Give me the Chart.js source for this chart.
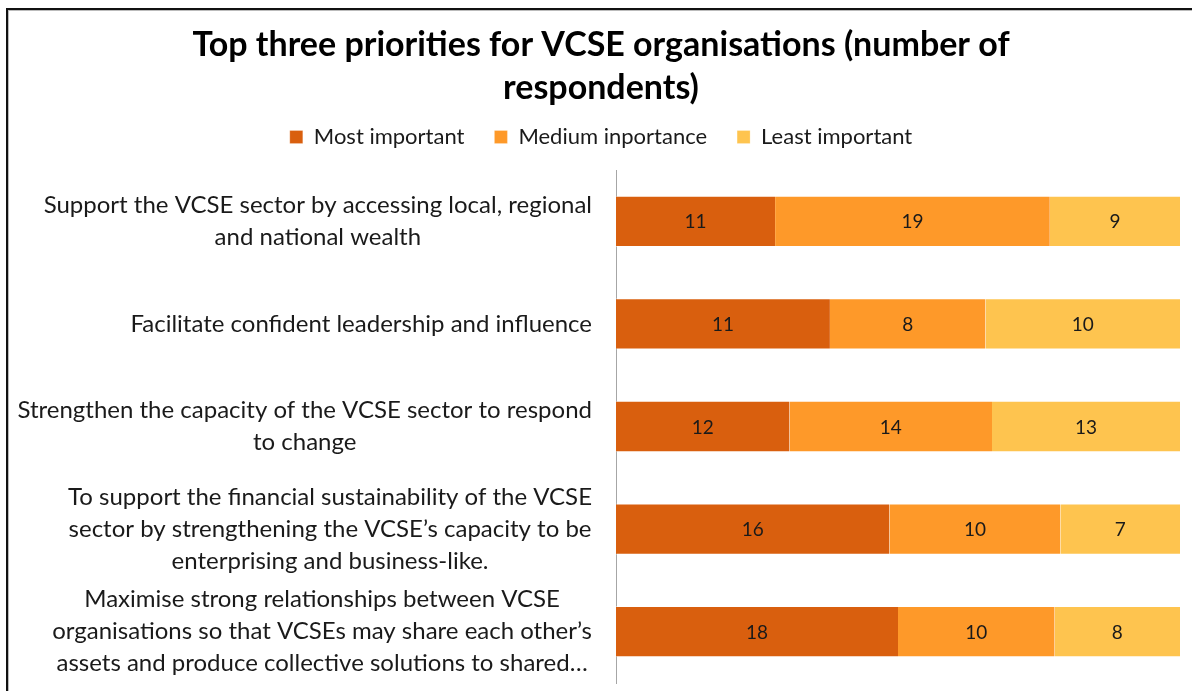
<!DOCTYPE html>
<html>
<head>
<meta charset="utf-8">
<title>Top three priorities for VCSE organisations</title>
<script src="https://cdn.jsdelivr.net/npm/chart.js@4/dist/chart.umd.min.js"></script>
<style>
html,body{margin:0;padding:0;background:#fff;overflow:hidden;}
#frame{position:absolute;left:6px;top:8px;width:1400px;height:900px;border-left:2px solid #111;border-top:2px solid #111;box-shadow:inset 1px 1px 0 #bbb;}
#wrap{position:absolute;left:0;top:0;width:1192px;height:691px;}
</style>
</head>
<body>
<div id="frame"></div>
<div id="wrap"><canvas id="prioritiesChart"></canvas></div>

<script>
/* =========================================================
DATA
========================================================= */

const categories = [
["Support the VCSE sector by accessing local, regional","and national wealth"],
["Facilitate confident leadership and influence"],
["Strengthen the capacity of the VCSE sector to respond","to change"],
["To support the financial sustainability of the VCSE","sector by strengthening the VCSE\u2019s capacity to be","enterprising and business-like."],
["Maximise strong relationships between VCSE","organisations so that VCSEs may share each other\u2019s","assets and produce collective solutions to shared\u2026"]
];

const seriesNames = ["Most important","Medium inportance","Least important"];

const mostImportant = [11,11,12,16,18];
const mediumImportance = [19,8,14,10,10];
const leastImportant = [9,10,13,7,8];

const seriesColours = ["#D95F0E","#FE9929","#FEC44F"];

const FONT = "Lato, 'Open Sans', sans-serif";

/* =========================================================
100% STACK (share of each row)
========================================================= */

const rawSeries = [mostImportant, mediumImportance, leastImportant];

const rowTotals = categories.map((c,i)=>
rawSeries.reduce((s,arr)=>s + arr[i],0)
);

const shareSeries = rawSeries.map(arr =>
arr.map((v,i)=> v / rowTotals[i] * 100)
);

/* =========================================================
PLUGINS
========================================================= */

// value labels in the middle of every segment
const valueLabels = {

id:"valueLabels",

afterDatasetsDraw(chart){

const ctx = chart.ctx;

ctx.save();
ctx.font = "19px " + FONT;
ctx.fillStyle = "#1a1a1a";
ctx.textAlign = "center";
ctx.textBaseline = "middle";

chart.data.datasets.forEach((ds,d)=>{

const meta = chart.getDatasetMeta(d);

meta.data.forEach((bar,i)=>{

ctx.fillText(
String(rawSeries[d][i]),
(bar.x + bar.base) / 2,
bar.y + 1
);

});

});

ctx.restore();

}

};

// category labels: block right aligned, lines centred inside the block
const categoryLabels = {

id:"categoryLabels",

afterDraw(chart){

const scale = chart.scales.y;
const ctx = chart.ctx;
const lineH = 32;

ctx.save();
ctx.font = "24px " + FONT;
ctx.fillStyle = "#1a1a1a";
ctx.textAlign = "center";
ctx.textBaseline = "middle";

categories.forEach((lines,i)=>{

const widest = Math.max(...lines.map(l => ctx.measureText(l).width));

const right = scale.right - 24;
const cx = right - widest / 2;
const cy = scale.getPixelForTick(i);
const top = cy - (lines.length - 1) * lineH / 2;

lines.forEach((l,k)=>{
ctx.fillText(l, cx, top + k * lineH);
});

});

ctx.restore();

}

};

// a bit more room under the legend
const legendSpacing = {

id:"legendSpacing",

beforeInit(chart){

const fit = chart.legend.fit;

chart.legend.fit = function(){
fit.call(this);
this.height += 12;
};

}

};

/* =========================================================
CHART
========================================================= */

new Chart(document.getElementById("prioritiesChart"), {

type:"bar",

data:{

labels:categories,

datasets: seriesNames.map((name,d)=>({

label:name,
data:shareSeries[d],
backgroundColor:seriesColours[d],
borderColor:"rgba(255,255,255,0.45)",
borderWidth:{top:1,bottom:1,left:0,right:0},
borderSkipped:false,
categoryPercentage:1,
barPercentage:0.5

}))

},

options:{

indexAxis:"y",
responsive:true,
maintainAspectRatio:false,
animation:false,

layout:{
padding:{left:22,right:12,top:0,bottom:8}
},

scales:{

x:{
stacked:true,
min:0,
max:100,
display:false
},

y:{
stacked:true,
grid:{display:false},
border:{display:true,color:"#A6A6A6",width:1},
ticks:{display:false},
afterFit(scale){
scale.width = 594;
}
}

},

plugins:{

title:{
display:true,
text:["Top three priorities for VCSE organisations (number of","respondents)"],
color:"#000",
font:{family:FONT,size:34,weight:"bold",lineHeight:1.265},
padding:{top:24,bottom:-14}
},

legend:{
position:"top",
labels:{
color:"#1a1a1a",
font:{family:FONT,size:22},
boxWidth:13,
boxHeight:13,
padding:30
}
},

tooltip:{
callbacks:{
title:(items)=> categories[items[0].dataIndex].join(" "),
label:(item)=> item.dataset.label + ": " + rawSeries[item.datasetIndex][item.dataIndex]
}
}

}

},

plugins:[valueLabels,categoryLabels,legendSpacing]

});

/* END */
</script>
</body>
</html>
